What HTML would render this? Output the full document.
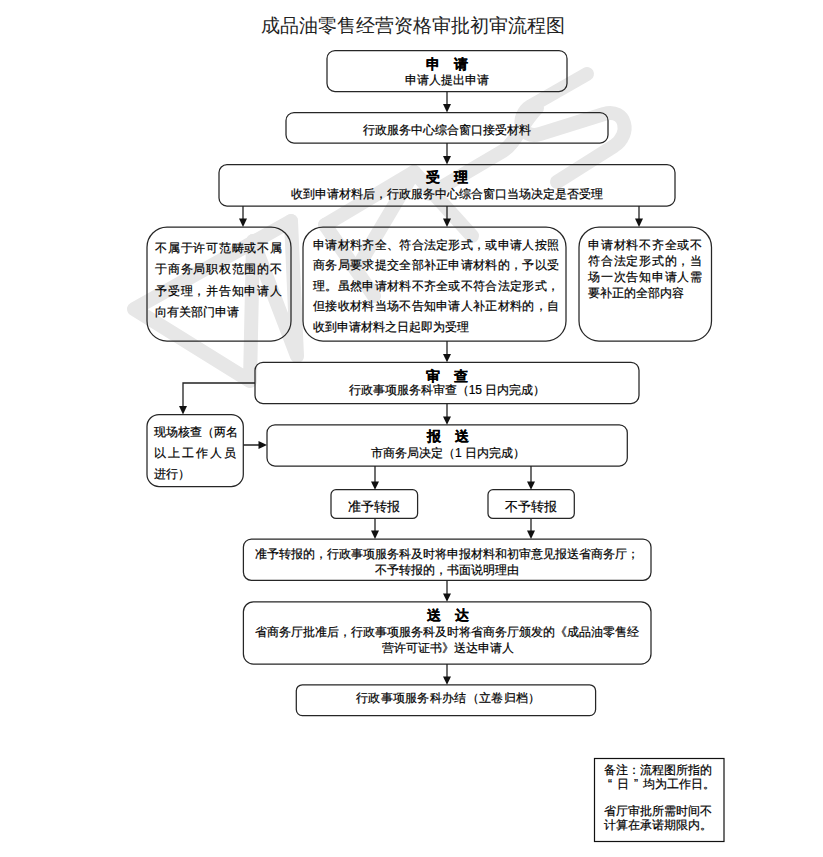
<!DOCTYPE html>
<html><head><meta charset="utf-8">
<style>
html,body{margin:0;padding:0;background:#fff;}
body{width:823px;height:857px;position:relative;overflow:hidden;font-family:"Liberation Sans",sans-serif;color:#000;}
svg{position:absolute;left:0;top:0;}
.t{position:absolute;white-space:nowrap;font-size:12px;line-height:16px;-webkit-text-stroke:0.2px #000;}
.c{text-align:center;}
.b{font-weight:bold;font-size:14px;}
.j{text-align:justify;text-align-last:justify;}
</style></head><body>
<svg width="823" height="857" viewBox="0 0 823 857">
<g id="wm" fill="none" stroke="#e7e7e7" stroke-width="14" stroke-linecap="round" stroke-linejoin="round">
<path d="M291 221L134 309L250 381L253 241"/>
<path d="M253 241L297 356L291 221"/>
<path d="M325 225L374 296"/>
<path d="M325 225L414 172L472 236"/>
<path d="M414 172L356 270"/>
<path d="M430 194L503 151C516 143 521 124 537 108"/>
<path stroke-linecap="round" d="M587 74L531 106C515 116 520 140 540 134L604 114C626 108 632 134 614 146L557 182"/>
</g>
<g fill="none" stroke="#262626" stroke-width="1.25">
<rect x="327" y="50.5" width="240" height="41" rx="8"/>
<rect x="286" y="112.5" width="322" height="30.5" rx="8"/>
<rect x="219" y="164.6" width="456" height="41.4" rx="8"/>
<rect x="147" y="227.2" width="144" height="113.8" rx="20"/>
<rect x="303" y="227.2" width="263" height="113.8" rx="20"/>
<rect x="579" y="227.2" width="132.5" height="113.8" rx="20"/>
<rect x="255" y="362.3" width="384" height="41.2" rx="8"/>
<rect x="147" y="414.5" width="96.3" height="72" rx="12"/>
<rect x="267" y="424.8" width="360.3" height="41.2" rx="8"/>
<rect x="331" y="489.7" width="86.6" height="28.7" rx="5"/>
<rect x="488" y="489.7" width="86.3" height="28.7" rx="5"/>
<rect x="243.4" y="539" width="407.6" height="41.3" rx="8"/>
<rect x="243.4" y="601.8" width="407.6" height="62.2" rx="10"/>
<rect x="296.3" y="684.8" width="299.3" height="30.8" rx="6"/>
</g>
<rect x="594.5" y="758.5" width="129.5" height="83" fill="none" stroke="#111" stroke-width="1.2"/>
<g fill="none" stroke="#222" stroke-width="1.3">
<path d="M447 91.5V105 M447 143V157 M243 206V219 M447 206V219 M639 206V219 M447 341V355 M255 383H183V407 M447 403.5V417 M243.3 445H259 M375 466V482 M531 466V482 M375 518.4V531 M531 518.4V531 M447 580.3V594 M447 664V677"/>
</g>
<g fill="#111">
<path d="M443 104L451 104L447 112.5Z"/>
<path d="M443 156L451 156L447 164.6Z"/>
<path d="M239 218.5L247 218.5L243 227Z"/>
<path d="M443 218.5L451 218.5L447 227Z"/>
<path d="M635 218.5L643 218.5L639 227Z"/>
<path d="M443 354L451 354L447 362.3Z"/>
<path d="M179 406L187 406L183 414.5Z"/>
<path d="M443 416.5L451 416.5L447 424.8Z"/>
<path d="M258.5 441L258.5 449L267 445Z"/>
<path d="M371 481.5L379 481.5L375 489.7Z"/>
<path d="M527 481.5L535 481.5L531 489.7Z"/>
<path d="M371 530.5L379 530.5L375 539Z"/>
<path d="M527 530.5L535 530.5L531 539Z"/>
<path d="M443 593.5L451 593.5L447 601.8Z"/>
<path d="M443 676.5L451 676.5L447 684.8Z"/>
</g>
</svg>

<div class="t c" style="left:213px;width:400px;top:14px;font-size:18.5px;line-height:24px;color:#222;-webkit-text-stroke:0">成品油零售经营资格审批初审流程图</div>

<div class="t c b" style="left:327px;width:240px;top:55px;line-height:18px">申　请</div>
<div class="t c" style="left:327px;width:240px;top:72px">申请人提出申请</div>

<div class="t c" style="left:285.5px;width:322px;top:122px">行政服务中心综合窗口接受材料</div>

<div class="t c b" style="left:219px;width:456px;top:167.5px;line-height:18px">受　理</div>
<div class="t c" style="left:219px;width:456px;top:186px">收到申请材料后，行政服务中心综合窗口当场决定是否受理</div>

<div class="t" style="left:155px;top:237.5px;line-height:21.6px">
<div class="j" style="width:127px">不属于许可范畴或不属</div>
<div class="j" style="width:127px">于商务局职权范围的不</div>
<div class="j" style="width:127px">予受理，并告知申请人</div>
<div>向有关部门申请</div>
</div>

<div class="t" style="left:313px;top:234.5px;line-height:20.6px">
<div class="j" style="width:246px">申请材料齐全、符合法定形式，或申请人按照</div>
<div class="j" style="width:246px">商务局要求提交全部补正申请材料的，予以受</div>
<div class="j" style="width:246px">理。虽然申请材料不齐全或不符合法定形式，</div>
<div class="j" style="width:246px">但接收材料当场不告知申请人补正材料的，自</div>
<div>收到申请材料之日起即为受理</div>
</div>

<div class="t" style="left:588px;top:238px;line-height:15.9px">
<div class="j" style="width:114px">申请材料不齐全或不</div>
<div class="j" style="width:114px">符合法定形式的，当</div>
<div class="j" style="width:114px">场一次告知申请人需</div>
<div>要补正的全部内容</div>
</div>

<div class="t c b" style="left:255px;width:384px;top:367px;line-height:18px">审　查</div>
<div class="t c" style="left:255px;width:384px;top:382px">行政事项服务科审查（15 日内完成）</div>

<div class="t" style="left:154px;top:422px;line-height:21px">
<div class="j" style="width:84px">现场核查（两名</div>
<div class="j" style="width:82px">以上工作人员</div>
<div>进行）</div>
</div>

<div class="t c b" style="left:267.5px;width:360px;top:427px;line-height:18px">报　送</div>
<div class="t c" style="left:268px;width:360px;top:445px">市商务局决定（1 日内完成）</div>

<div class="t c" style="left:330px;width:87px;top:499px;font-size:12.5px">准予转报</div>
<div class="t c" style="left:487px;width:87px;top:499px;font-size:12.5px">不予转报</div>

<div class="t" style="left:254.5px;top:545.5px">准予转报的，行政事项服务科及时将申报材料和初审意见报送省商务厅；</div>
<div class="t" style="left:374.5px;top:561.5px">不予转报的，书面说明理由</div>

<div class="t c b" style="left:244px;width:408px;top:607px;line-height:18px;font-size:13.5px">送　达</div>
<div class="t" style="left:254.5px;top:624px">省商务厅批准后，行政事项服务科及时将省商务厅颁发的《成品油零售经</div>
<div class="t" style="left:381.5px;top:640px">营许可证书》送达申请人</div>

<div class="t" style="left:356px;top:690px;letter-spacing:0.3px">行政事项服务科办结（立卷归档）</div>

<div class="t" style="left:604px;top:764px;line-height:13.8px">备注：流程图所指的<br><span style="letter-spacing:5px;margin-left:4px">“日”</span>均为工作日。<br>&nbsp;<br>省厅审批所需时间不<br>计算在承诺期限内。</div>
</body></html>
